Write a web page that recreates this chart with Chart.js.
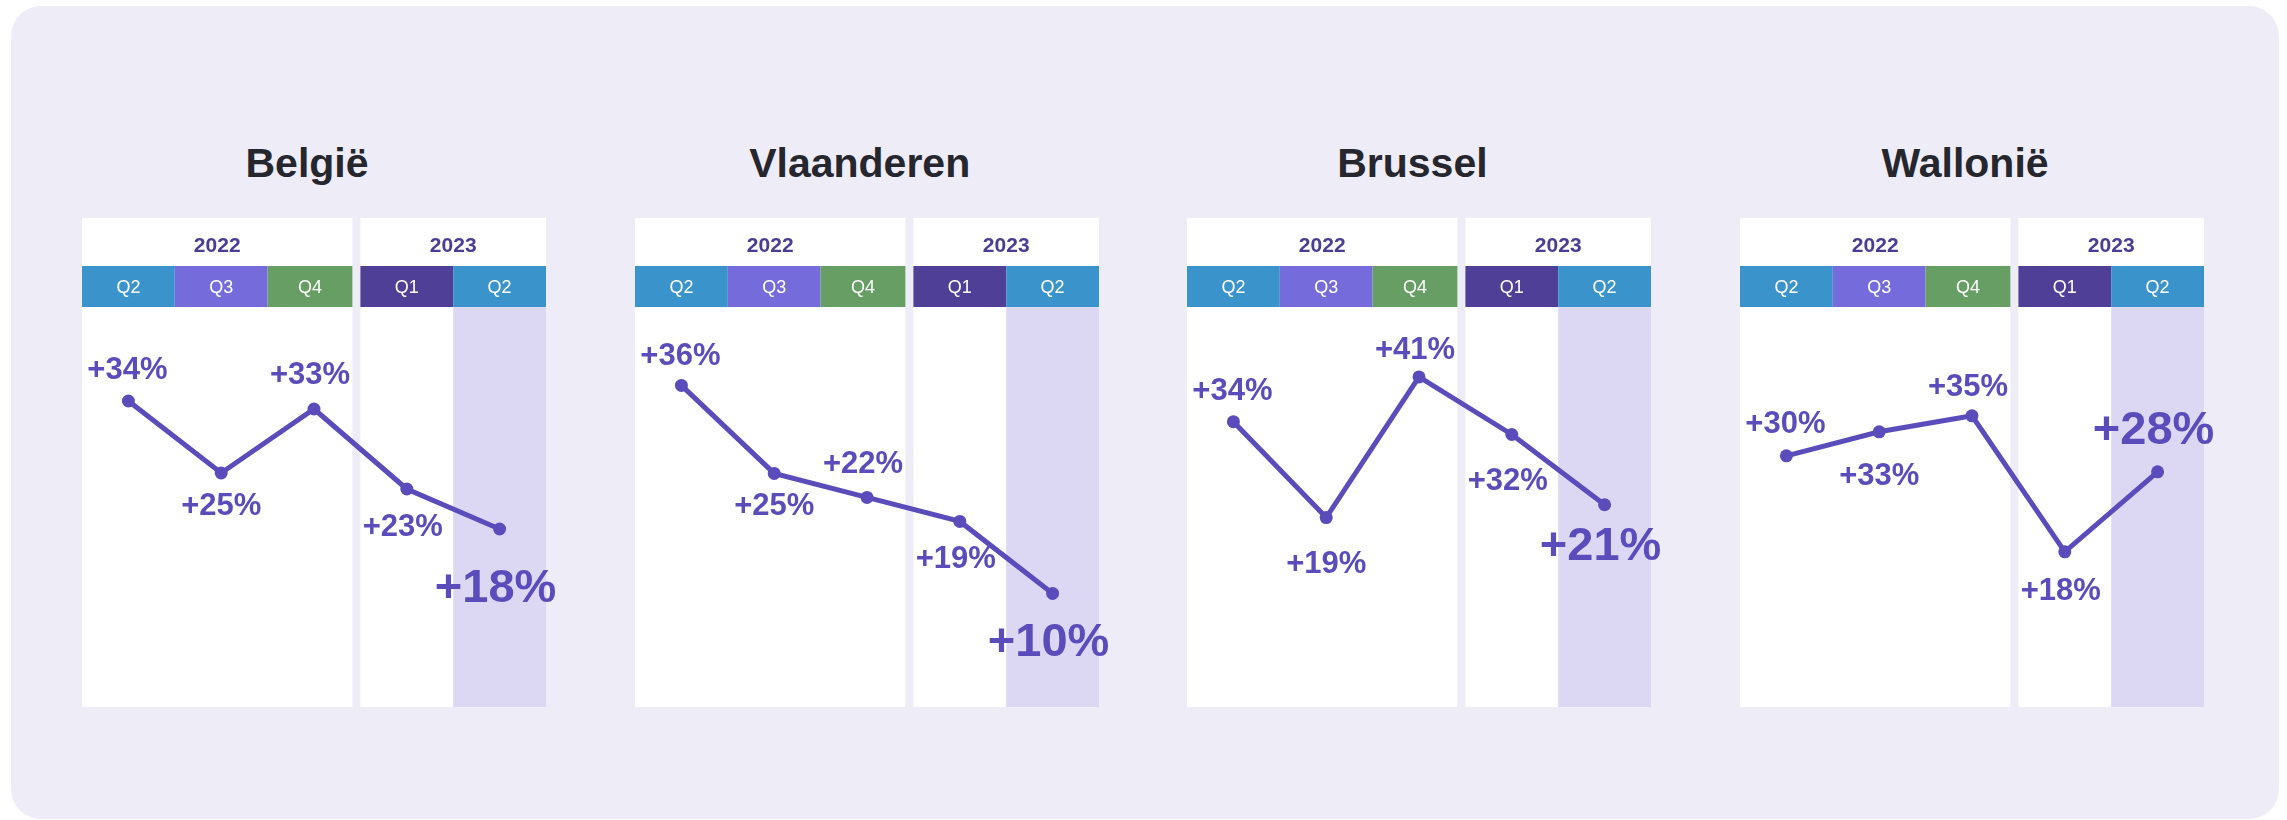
<!DOCTYPE html>
<html lang="nl">
<head>
<meta charset="utf-8">
<title>Groei per regio</title>
<script src="https://cdn.jsdelivr.net/npm/chart.js@4.4.0/dist/chart.umd.min.js"></script>
<style>
  html, body { margin: 0; padding: 0; background: #fff; }
  body { width: 2287px; height: 820px; position: relative; overflow: hidden; font-family: 'Liberation Sans', Arial, sans-serif; }
  .card { position: absolute; left: 11px; top: 6px; width: 2268px; height: 813px; background: #eeecf7; border-radius: 30px; }
  .title { position: absolute; top: 138px; width: 300px; margin: 0; text-align: center; font-size: 41px; font-weight: bold; color: #25262e; line-height: 50px; }
  canvas { position: absolute; top: 218px; }
</style>
</head>
<body>
<div class="card"></div>
<script>
// data
const regions = ['België', 'Vlaanderen', 'Brussel', 'Wallonië'];
const quarters = ['Q2', 'Q3', 'Q4', 'Q1', 'Q2'];
const years = ['2022', '2023'];
const yearSpan = [3, 2];
const belgie = [34, 25, 33, 23, 18];
const vlaanderen = [36, 25, 22, 19, 10];
const brussel = [34, 19, 41, 32, 21];
const wallonie = [30, 33, 35, 18, 28];
const series = [belgie, vlaanderen, brussel, wallonie];

// y-range per chart (each panel has its own scale)
const yRanges = [[-4.25, 45.75], [-4.2, 45.8], [-10.65, 51.95], [-1.4, 48.6]];

// label placement relative to the point (px)
const labelDx = [-1, 0, -4, -4, -4];
const labelDy = [
  [-33, 31, -36, 36, 56],
  [-31, 31, -35, 36, 46],
  [-33, 44, -29, 44, 38],
  [-34, 42, -31, 37, -45]
];

const qColors = ['#3a93cb', '#766bdb', '#669e64', '#4f3f96', '#3a93cb'];
const LINE = '#5a4cba';
const FONT = "'Liberation Sans', Arial, sans-serif";
const HEAD = 89, BAND = 41, GAP = 8;
const PANEL_X = 82, PANEL_STEP = 552.7, PANEL_W = 464, PAD = 30;

// header cells, white boxes and highlighted last quarter
const decor = {
  id: 'decor',
  beforeDraw(chart) {
    const { ctx, chartArea: a } = chart;
    const n = quarters.length;
    const w = (a.right - a.left) / n;
    const edge = i => a.left + w * i;
    const headTop = a.top - HEAD;
    ctx.save();
    ctx.textAlign = 'center';
    ctx.textBaseline = 'alphabetic';
    let start = 0;
    years.forEach((yr, k) => {
      const end = start + yearSpan[k];
      const x0 = edge(start);
      const x1 = edge(end) - (k < years.length - 1 ? GAP : 0);
      ctx.fillStyle = '#ffffff';
      ctx.fillRect(x0, headTop, x1 - x0, a.bottom - headTop);
      ctx.fillStyle = '#4b3d94';
      ctx.font = 'bold 21px ' + FONT;
      ctx.fillText(yr, (x0 + x1) / 2, a.top - 55.5);
      for (let i = start; i < end; i++) {
        const c0 = edge(i);
        const c1 = i === end - 1 ? x1 : edge(i + 1);
        ctx.fillStyle = qColors[i];
        ctx.fillRect(c0, a.top - BAND, c1 - c0, BAND);
        ctx.fillStyle = '#ffffff';
        ctx.font = '18px ' + FONT;
        ctx.fillText(quarters[i], (c0 + c1) / 2, a.top - BAND / 2 + 6.5);
      }
      start = end;
    });
    ctx.fillStyle = '#dcd8f4';
    ctx.fillRect(edge(n - 1), a.top, a.right - edge(n - 1), a.bottom - a.top);
    ctx.restore();
  }
};

// value labels, last one bigger
const valueLabels = {
  id: 'valueLabels',
  afterDatasetsDraw(chart, args, opts) {
    const { ctx } = chart;
    const meta = chart.getDatasetMeta(0);
    const values = chart.data.datasets[0].data;
    ctx.save();
    ctx.fillStyle = LINE;
    ctx.textAlign = 'center';
    ctx.textBaseline = 'alphabetic';
    meta.data.forEach((pt, i) => {
      const size = i === values.length - 1 ? 47 : 31;
      ctx.font = 'bold ' + size + 'px ' + FONT;
      ctx.fillText('+' + values[i] + '%', pt.x + labelDx[i], pt.y + opts.dy[i] + size * 0.358);
    });
    ctx.restore();
  }
};

regions.forEach((name, r) => {
  const left = PANEL_X + PANEL_STEP * r;

  const title = document.createElement('div');
  title.className = 'title';
  title.textContent = name;
  title.style.left = (left + PANEL_W / 2 - 7 - 150) + 'px';
  document.body.appendChild(title);

  const canvas = document.createElement('canvas');
  canvas.width = PANEL_W + PAD * 2;
  canvas.height = HEAD + 400;
  canvas.style.left = (left - PAD) + 'px';
  canvas.style.width = canvas.width + 'px';
  canvas.style.height = canvas.height + 'px';
  document.body.appendChild(canvas);

  new Chart(canvas.getContext('2d'), {
    type: 'line',
    data: {
      labels: quarters,
      datasets: [{
        data: series[r],
        borderColor: LINE,
        backgroundColor: LINE,
        borderWidth: 5,
        pointRadius: 6.5,
        pointBackgroundColor: LINE,
        pointBorderWidth: 0,
        tension: 0,
        clip: false
      }]
    },
    options: {
      responsive: false,
      animation: false,
      layout: { autoPadding: false, padding: { left: PAD, right: PAD, top: HEAD, bottom: 0 } },
      scales: {
        x: { type: 'category', offset: true, display: false },
        y: { display: false, min: yRanges[r][0], max: yRanges[r][1] }
      },
      plugins: {
        legend: { display: false },
        tooltip: { enabled: false },
        valueLabels: { dy: labelDy[r] }
      }
    },
    plugins: [decor, valueLabels]
  });
});
</script>
</body>
</html>
